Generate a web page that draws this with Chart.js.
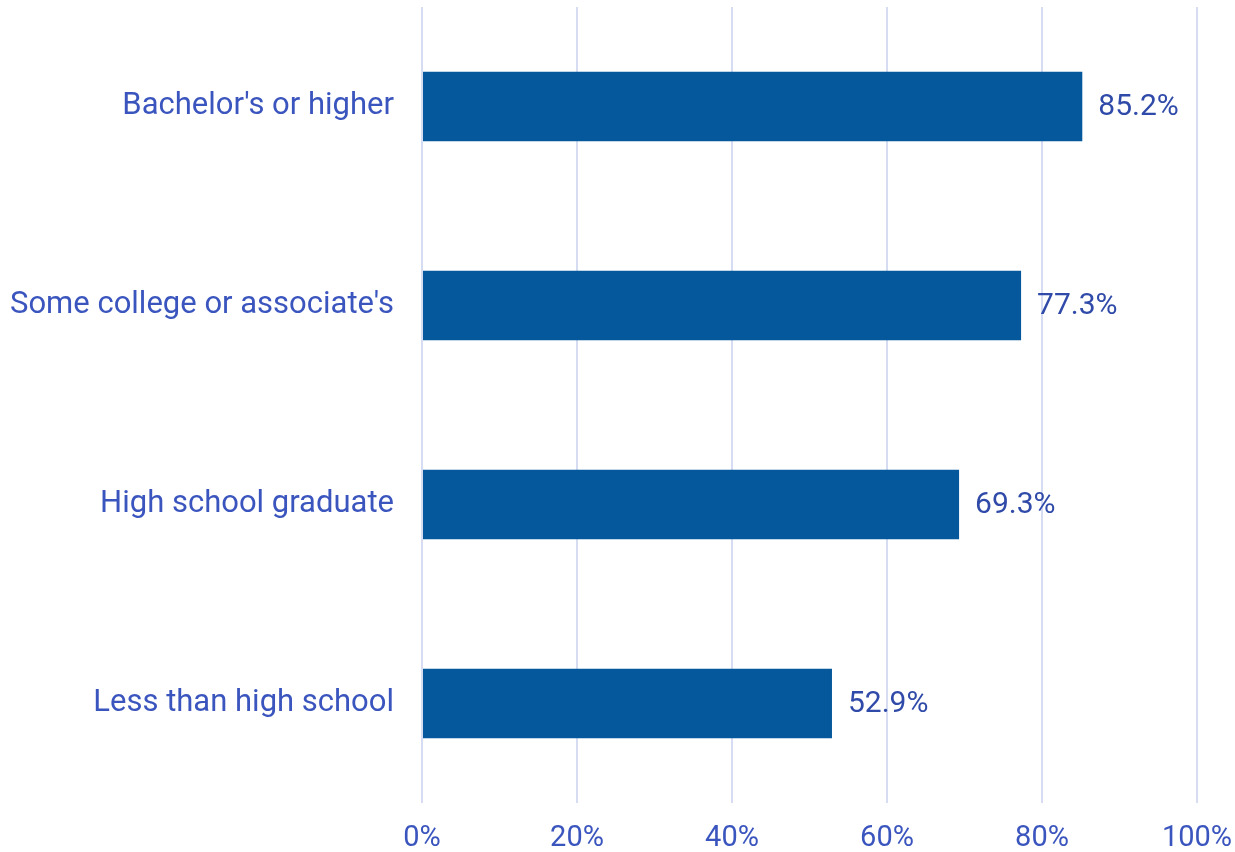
<!DOCTYPE html>
<html>
<head>
<meta charset="utf-8">
<script src="https://cdn.jsdelivr.net/npm/chart.js@4/dist/chart.umd.min.js"></script>
<style>
  html, body { margin: 0; padding: 0; background: #fff; overflow: hidden; }
  #wrap { width: 1235px; height: 852px; position: relative; }
  canvas { display: block; }
</style>
</head>
<body>
<div id="wrap"><canvas id="chart"></canvas></div>
<script>
// data
const categories = ["Bachelor's or higher", "Some college or associate's", "High school graduate", "Less than high school"];
const values = [85.2, 77.3, 69.3, 52.9];
const xTicks = [0, 20, 40, 60, 80, 100];

const labelBlue = '#3b55be';
const barBlue = '#05589b';
const fontFamily = 'Roboto, "Open Sans", sans-serif';

// draws the "85.2%" labels just past the end of each bar
const valueLabels = {
    id: 'valueLabels',
    afterDatasetsDraw(chart) {
        const ctx = chart.ctx;
        const meta = chart.getDatasetMeta(0);
        ctx.save();
        ctx.font = '30px ' + fontFamily;
        ctx.fillStyle = '#2f4aa8';
        ctx.textAlign = 'left';
        ctx.textBaseline = 'middle';
        meta.data.forEach((bar, i) => {
            ctx.fillText(values[i].toFixed(1) + '%', bar.x + 16, bar.y + 1);
        });
        ctx.restore();
    }
};

const ctx = document.getElementById('chart').getContext('2d');
new Chart(ctx, {
    type: 'bar',
    data: {
        labels: categories,
        datasets: [{
            data: values,
            backgroundColor: barBlue,
            borderWidth: 0,
            barPercentage: 0.35,
            categoryPercentage: 1
        }]
    },
    options: {
        indexAxis: 'y',
        responsive: true,
        maintainAspectRatio: false,
        animation: false,
        layout: { padding: { top: 7, right: 38, bottom: 0, left: 0 } },
        plugins: {
            legend: { display: false },
            tooltip: { enabled: false }
        },
        scales: {
            x: {
                min: 0,
                max: 100,
                afterBuildTicks: (axis) => { axis.ticks = xTicks.map(v => ({ value: v })); },
                afterFit: (axis) => { axis.height = 49; axis.paddingLeft = 0; axis.paddingRight = 0; },
                grid: { color: '#d6dcf1', lineWidth: 2, drawTicks: false },
                border: { display: false },
                ticks: {
                    color: labelBlue,
                    padding: 18,
                    font: { family: fontFamily, size: 29 },
                    callback: (v) => v + '%'
                }
            },
            y: {
                grid: { display: false },
                border: { display: false },
                afterFit: (axis) => { axis.width = 422; axis.paddingTop = 0; axis.paddingBottom = 0; },
                ticks: {
                    color: labelBlue,
                    padding: 20,
                    font: { family: fontFamily, size: 31 }
                }
            }
        }
    },
    plugins: [valueLabels]
});
</script>
</body>
</html>
